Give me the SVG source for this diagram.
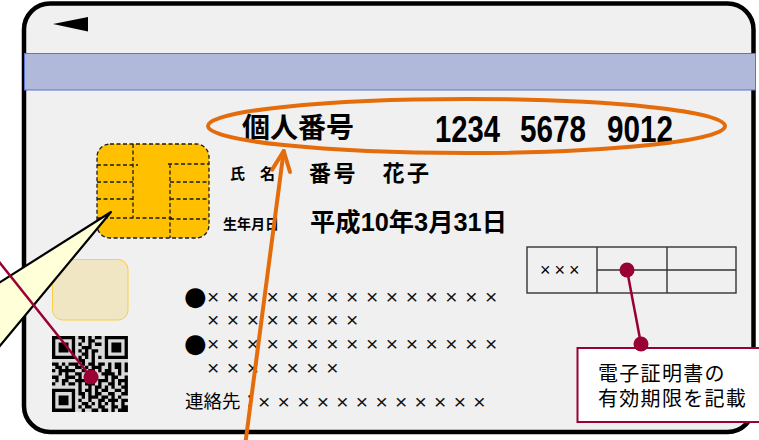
<svg xmlns="http://www.w3.org/2000/svg" width="759" height="440" viewBox="0 0 759 440">
<defs>
<style>
.jp{font-family:"Liberation Sans","Noto Sans CJK JP",sans-serif;fill:#000}
.b{font-weight:bold}
.x{font-family:"Liberation Sans",sans-serif;font-size:21px;letter-spacing:7.6px;fill:#111}
.bul{font-family:"DejaVu Sans",sans-serif;font-size:26px;fill:#000}
.dash{fill:none;stroke:#1a1a1a;stroke-width:1.3;stroke-dasharray:4 2.5}
.lead{stroke:#990033;stroke-width:2.5;fill:none}
.dot{fill:#990033}
.org{stroke:#e46c0a;stroke-width:4;fill:none;stroke-linecap:round;stroke-linejoin:round}
.grid{fill:none;stroke:#333;stroke-width:1.4}
</style>
<marker id="openhead" markerUnits="userSpaceOnUse" markerWidth="30" markerHeight="30" viewBox="-25 -15 30 30" refX="0" refY="0" orient="auto" overflow="visible">
<path d="M-20,-9 L0,0 L-20,9" class="org"/>
</marker>
</defs>

<!-- card body -->
<g id="card">
<rect x="24" y="3.5" width="729.5" height="428.5" rx="26" fill="#f0f0f0" stroke="#000" stroke-width="4.5"/>
<polygon points="53,24 88,17 88,31.5" fill="#000"/>
</g>

<g id="stripe">
<rect x="24.5" y="53.5" width="731" height="36.5" fill="#b0b9d9" stroke="#5a72d4" stroke-width="1"/>
</g>

<!-- IC chip -->
<g id="chip">
<rect x="97" y="144" width="112" height="94" rx="13" class="dash" style="fill:#ffc000"/>
<path class="dash" d="M133,144V218 M97,165H138 M97,182H133 M97,199H133 M97,218H172 M170,164V238 M168,164H209 M170,182H209 M170,199H209 M170,219H209"/>
</g>

<g id="photo">
<rect x="52.5" y="259.5" width="75.5" height="60.5" rx="10" fill="#f1e6c3" stroke="#f9cf45" stroke-width="1"/>
</g>

<!-- 2D code -->
<g id="qr" transform="translate(52,336) scale(3.3)">
<rect x="0" y="0" width="23" height="23" fill="#d9d9d9"/>
<path fill="#000" d="
M0,0h7v1h-7z M8,0h2v1h-2z M11,0h1v1h-1z M13,0h2v1h-2z M16,0h7v1h-7z
M0,1h1v1h-1z M6,1h1v1h-1z M9,1h1v1h-1z M11,1h2v1h-2z M16,1h1v1h-1z M22,1h1v1h-1z
M0,2h1v1h-1z M2,2h3v1h-3z M6,2h1v1h-1z M8,2h1v1h-1z M11,2h1v1h-1z M13,2h2v1h-2z M16,2h1v1h-1z M18,2h3v1h-3z M22,2h1v1h-1z
M0,3h1v1h-1z M2,3h3v1h-3z M6,3h1v1h-1z M9,3h3v1h-3z M16,3h1v1h-1z M18,3h3v1h-3z M22,3h1v1h-1z
M0,4h1v1h-1z M2,4h3v1h-3z M6,4h1v1h-1z M8,4h1v1h-1z M10,4h1v1h-1z M12,4h2v1h-2z M16,4h1v1h-1z M18,4h3v1h-3z M22,4h1v1h-1z
M0,5h1v1h-1z M6,5h1v1h-1z M9,5h2v1h-2z M12,5h1v1h-1z M16,5h1v1h-1z M22,5h1v1h-1z
M0,6h7v1h-7z M8,6h1v1h-1z M10,6h1v1h-1z M12,6h1v1h-1z M14,6h1v1h-1z M16,6h7v1h-7z
M8,7h2v1h-2z M12,7h1v1h-1z
M0,8h2v1h-2z M3,8h1v1h-1z M5,8h3v1h-3z M9,8h1v1h-1z M11,8h2v1h-2z M14,8h2v1h-2z M17,8h1v1h-1z M19,8h2v1h-2z M22,8h1v1h-1z
M1,9h2v1h-2z M4,9h1v1h-1z M7,9h2v1h-2z M10,9h1v1h-1z M12,9h3v1h-3z M17,9h1v1h-1z M19,9h2v1h-2z M22,9h1v1h-1z
M0,10h1v1h-1z M2,10h5v1h-5z M9,10h1v1h-1z M11,10h2v1h-2z M14,10h1v1h-1z M16,10h2v1h-2z M20,10h1v1h-1z M22,10h1v1h-1z
M2,11h1v1h-1z M4,11h1v1h-1z M7,11h2v1h-2z M12,11h1v1h-1z M15,11h4v1h-4z M20,11h1v1h-1z
M0,12h2v1h-2z M4,12h3v1h-3z M8,12h1v1h-1z M10,12h2v1h-2z M13,12h1v1h-1z M16,12h1v1h-1z M18,12h2v1h-2z M22,12h1v1h-1z
M1,13h1v1h-1z M3,13h2v1h-2z M7,13h3v1h-3z M11,13h1v1h-1z M14,13h3v1h-3z M18,13h1v1h-1z M20,13h3v1h-3z
M0,14h1v1h-1z M3,14h1v1h-1z M5,14h2v1h-2z M8,14h1v1h-1z M10,14h3v1h-3z M14,14h1v1h-1z M17,14h2v1h-2z M20,14h1v1h-1z M22,14h1v1h-1z
M8,15h1v1h-1z M11,15h1v1h-1z M13,15h2v1h-2z M16,15h1v1h-1z M18,15h1v1h-1z M21,15h2v1h-2z
M0,16h7v1h-7z M8,16h1v1h-1z M10,16h2v1h-2z M13,16h1v1h-1z M15,16h2v1h-2z M19,16h2v1h-2z M22,16h1v1h-1z
M0,17h1v1h-1z M6,17h1v1h-1z M8,17h2v1h-2z M11,17h1v1h-1z M13,17h2v1h-2z M17,17h2v1h-2z M21,17h2v1h-2z
M0,18h1v1h-1z M2,18h3v1h-3z M6,18h1v1h-1z M9,18h1v1h-1z M11,18h3v1h-3z M15,18h2v1h-2z M18,18h1v1h-1z M20,18h1v1h-1z
M0,19h1v1h-1z M2,19h3v1h-3z M6,19h1v1h-1z M8,19h1v1h-1z M11,19h1v1h-1z M14,19h2v1h-2z M17,19h3v1h-3z M21,19h2v1h-2z
M0,20h1v1h-1z M2,20h3v1h-3z M6,20h1v1h-1z M9,20h2v1h-2z M12,20h1v1h-1z M14,20h1v1h-1z M16,20h1v1h-1z M18,20h1v1h-1z M21,20h1v1h-1z
M0,21h1v1h-1z M6,21h1v1h-1z M8,21h1v1h-1z M10,21h2v1h-2z M14,21h2v1h-2z M18,21h2v1h-2z M21,21h2v1h-2z
M0,22h7v1h-7z M9,22h1v1h-1z M12,22h2v1h-2z M15,22h2v1h-2z M18,22h1v1h-1z M20,22h3v1h-3z"/>
</g>

<!-- printed fields -->
<g id="number">
<text class="jp b" x="242" y="138" font-size="28">個人番号</text>
<text class="jp b" x="435" y="142" font-size="37" textLength="65" lengthAdjust="spacingAndGlyphs">1234</text>
<text class="jp b" x="520" y="142" font-size="37" textLength="66" lengthAdjust="spacingAndGlyphs">5678</text>
<text class="jp b" x="607" y="142" font-size="37" textLength="66" lengthAdjust="spacingAndGlyphs">9012</text>
</g>

<g id="name">
<text class="jp b" x="230" y="179" font-size="15">氏　名</text>
<text class="jp b" x="309" y="180.5" font-size="22" letter-spacing="2.5">番号　花子</text>
</g>

<g id="birth">
<text class="jp b" x="223" y="229" font-size="14">生年月日</text>
<text class="jp b" x="310" y="231" font-size="25" textLength="197" lengthAdjust="spacingAndGlyphs">平成10年3月31日</text>
</g>

<g id="address">
<text class="bul" x="184" y="305">●</text>
<text class="x" x="207" y="304">×××××××××××××××</text>
<text class="x" x="207" y="327">××××××××</text>
<text class="bul" x="184" y="352">●</text>
<text class="x" x="207" y="351">×××××××××××××××</text>
<text class="x" x="207" y="375">×××××××</text>
<text class="jp" x="185" y="408" font-size="18.5">連絡先：</text>
<text class="x" x="258" y="409" style="letter-spacing:7.3px">××××××××××××</text>
</g>

<g id="expiry">
<rect class="grid" x="527" y="247" width="209" height="46"/>
<path class="grid" d="M597,247V293 M667,247V293 M597,270H736"/>
<text class="jp" x="540" y="275.5" font-size="18" letter-spacing="4">×××</text>
</g>

<!-- callouts and connectors -->
<g id="connectors">
<polygon points="111,212 -6,286 -6,353" fill="#ffffd8" stroke="#000" stroke-width="2.2" stroke-linejoin="round"/>
<line class="lead" x1="-4" y1="258" x2="91" y2="377"/>
<circle class="dot" cx="91" cy="377" r="7.5"/>
<ellipse class="org" cx="466.5" cy="126" rx="258.5" ry="27"/>
<line class="org" x1="245" y1="446" x2="283.7" y2="151" marker-end="url(#openhead)"/>
<line class="lead" x1="627" y1="270" x2="641" y2="344"/>
<circle class="dot" cx="627" cy="270" r="7.5"/>
</g>

<g id="note">
<rect x="577.5" y="348" width="190" height="74" fill="#fff" stroke="#990033" stroke-width="2"/>
<circle class="dot" cx="641" cy="344" r="7.5"/>
<text class="jp" x="598" y="380.5" font-size="20" letter-spacing="1.3">電子証明書の</text>
<text class="jp" x="598" y="405.5" font-size="20" letter-spacing="1.3">有効期限を記載</text>
</g>
</svg>
